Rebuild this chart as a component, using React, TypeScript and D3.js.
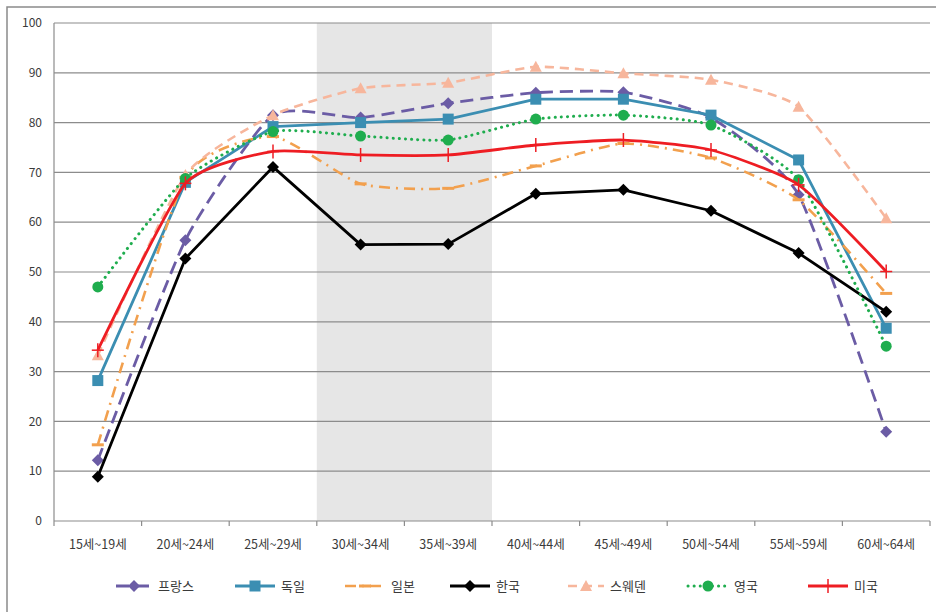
import * as d3 from "d3";

const categories = [
  "15세~19세",
  "20세~24세",
  "25세~29세",
  "30세~34세",
  "35세~39세",
  "40세~44세",
  "45세~49세",
  "50세~54세",
  "55세~59세",
  "60세~64세",
];

const france = [12.2, 56.4, 81.5, 81.0, 83.9, 86.0, 86.1, 81.0, 65.5, 17.9];
const germany = [28.2, 68.0, 79.2, 80.0, 80.7, 84.7, 84.7, 81.5, 72.5, 38.7];
const japan = [15.3, 69.0, 77.2, 67.7, 66.8, 71.3, 75.8, 72.9, 64.5, 45.7];
const korea = [8.9, 52.7, 71.1, 55.5, 55.6, 65.7, 66.5, 62.3, 53.8, 42.0];
const sweden = [33.3, 69.5, 81.5, 86.9, 88.0, 91.2, 89.9, 88.6, 83.2, 60.8];
const uk = [47.0, 68.8, 78.2, 77.3, 76.5, 80.7, 81.5, 79.5, 68.5, 35.1];
const usa = [34.3, 67.8, 74.2, 73.5, 73.5, 75.5, 76.5, 74.5, 67.5, 50.1];

const yTicks = [0, 10, 20, 30, 40, 50, 60, 70, 80, 90, 100];
const shadedCategories = ["30세~34세", "35세~39세"];

type Marker = "diamond" | "square" | "dash" | "triangle" | "circle" | "plus";

interface Series {
  name: string;
  values: number[];
  color: string;
  dash: string;
  marker: Marker;
  width: number;
  smooth: boolean;
  cap: "butt" | "round";
}

const series: Series[] = [
  { name: "프랑스", values: france, color: "#6b5ca5", dash: "13 7", marker: "diamond", width: 2.8, smooth: true, cap: "butt" },
  { name: "독일", values: germany, color: "#3b8eb2", dash: "", marker: "square", width: 2.8, smooth: false, cap: "butt" },
  { name: "일본", values: japan, color: "#f2a04e", dash: "11 6 2 6", marker: "dash", width: 2.6, smooth: true, cap: "butt" },
  { name: "한국", values: korea, color: "#000000", dash: "", marker: "diamond", width: 2.8, smooth: false, cap: "butt" },
  { name: "스웨덴", values: sweden, color: "#f7b69c", dash: "9 6", marker: "triangle", width: 2.6, smooth: true, cap: "butt" },
  { name: "영국", values: uk, color: "#1fad4e", dash: "0.1 6", marker: "circle", width: 3, smooth: true, cap: "round" },
  { name: "미국", values: usa, color: "#ee1d23", dash: "", marker: "plus", width: 2.8, smooth: true, cap: "butt" },
];

const W = 936;
const H = 612;
const plot = { left: 54, right: 930, top: 23, bottom: 521 };

function markerPath(m: Marker, s = 1): string {
  switch (m) {
    case "diamond":
      return `M0,${-6 * s}L${6 * s},0L0,${6 * s}L${-6 * s},0Z`;
    case "square":
      return `M${-5.5 * s},${-5.5 * s}h${11 * s}v${11 * s}h${-11 * s}Z`;
    case "triangle":
      return `M0,${-6 * s}L${6 * s},${5 * s}L${-6 * s},${5 * s}Z`;
    case "circle":
      return d3.symbol(d3.symbolCircle, 95 * s * s)() || "";
    default:
      return "";
  }
}

function MarkerShape({ m, color, x, y }: { m: Marker; color: string; x: number; y: number }) {
  if (m === "dash") {
    return <line x1={x - 6} x2={x + 6} y1={y} y2={y} stroke={color} strokeWidth={3} />;
  }
  if (m === "plus") {
    return (
      <g>
        <line x1={x} x2={x} y1={y - 7} y2={y + 7} stroke={color} strokeWidth={1.5} />
        <line x1={x - 6} x2={x + 6} y1={y} y2={y} stroke={color} strokeWidth={1.5} />
      </g>
    );
  }
  return <path d={markerPath(m)} transform={`translate(${x},${y})`} fill={color} />;
}

export default function App() {
  const x = d3.scaleBand<string>().domain(categories).range([plot.left, plot.right]);
  const y = d3.scaleLinear().domain([0, 100]).range([plot.bottom, plot.top]);
  const cx = (c: string) => (x(c) ?? 0) + x.bandwidth() / 2;

  const shadeX0 = x(shadedCategories[0]) ?? 0;
  const shadeX1 = (x(shadedCategories[shadedCategories.length - 1]) ?? 0) + x.bandwidth();

  const font = "'Noto Sans CJK KR', 'Noto Sans', sans-serif";

  // 범례 위치
  const legendX = [116, 235, 345, 450, 568, 688, 808];
  const legendY = 586;

  return (
    <svg
      width={W}
      height={H}
      style={{ position: "absolute", left: 0, top: 0, background: "#fff" }}
      fontFamily={font}
    >
      <rect x={0} y={0} width={W} height={H} fill="#fff" />
      <rect x={7} y={7} width={W + 20} height={H + 20} fill="none" stroke="#8a8a8a" strokeWidth={1.5} />

      {/* 음영 구간 */}
      <rect x={shadeX0} y={plot.top} width={shadeX1 - shadeX0} height={plot.bottom - plot.top} fill="#e6e6e6" />

      {/* 눈금선 */}
      {yTicks.map((t) => (
        <g key={t}>
          <line x1={plot.left} x2={plot.right} y1={y(t)} y2={y(t)} stroke="#8c8c8c" strokeWidth={1.2} />
          <text x={42} y={y(t)} dy="0.35em" textAnchor="end" fontSize={12} fill="#3a3a3a">
            {t}
          </text>
        </g>
      ))}
      <line x1={plot.left} x2={plot.left} y1={plot.top} y2={plot.bottom} stroke="#8c8c8c" strokeWidth={1.2} />

      {/* x축 눈금 */}
      {categories.map((c) => (
        <g key={c}>
          <line x1={x(c) ?? 0} x2={x(c) ?? 0} y1={plot.bottom} y2={plot.bottom + 5} stroke="#8c8c8c" strokeWidth={1.2} />
          <text x={cx(c)} y={plot.bottom + 28} textAnchor="middle" fontSize={12.5} fill="#3a3a3a">
            {c}
          </text>
        </g>
      ))}
      <line x1={plot.right} x2={plot.right} y1={plot.bottom} y2={plot.bottom + 5} stroke="#8c8c8c" strokeWidth={1.2} />

      {/* 계열 */}
      {series.map((s) => {
        const line = d3
          .line<number>()
          .x((_, i) => cx(categories[i]))
          .y((v) => y(v))
          .curve(s.smooth ? d3.curveCardinal.tension(0.45) : d3.curveLinear);
        return (
          <g key={s.name}>
            <path
              d={line(s.values) || ""}
              fill="none"
              stroke={s.color}
              strokeWidth={s.width}
              strokeDasharray={s.dash || undefined}
              strokeLinecap={s.cap}
              strokeLinejoin="round"
            />
            {s.values.map((v, i) => (
              <MarkerShape key={i} m={s.marker} color={s.color} x={cx(categories[i])} y={y(v)} />
            ))}
          </g>
        );
      })}

      {/* 범례 */}
      {series.map((s, i) => {
        const lx = legendX[i];
        const len = s.name.length === 3 ? 36 : 40;
        return (
          <g key={s.name}>
            <line
              x1={lx}
              x2={lx + len}
              y1={legendY}
              y2={legendY}
              stroke={s.color}
              strokeWidth={s.width}
              strokeDasharray={s.dash || undefined}
              strokeLinecap={s.cap}
            />
            <MarkerShape m={s.marker} color={s.color} x={lx + len / 2} y={legendY} />
            <text x={lx + len + 6} y={legendY} dy="0.35em" fontSize={13} fill="#3a3a3a">
              {s.name}
            </text>
          </g>
        );
      })}
    </svg>
  );
}
